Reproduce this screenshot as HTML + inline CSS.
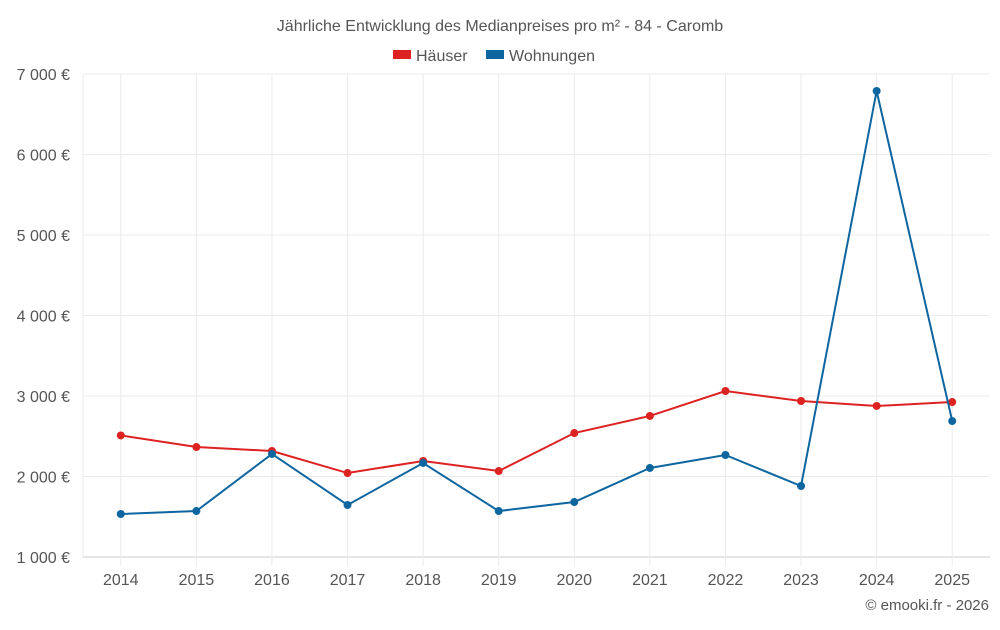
<!DOCTYPE html>
<html><head><meta charset="utf-8"><style>
body{margin:0;background:#fff;font-family:"Liberation Sans",sans-serif;}
svg text{font-family:"Liberation Sans",sans-serif;}
</style></head><body>
<svg id="c" width="1000" height="625">
<text x="500" y="31" text-anchor="middle" font-size="16" fill="#555">Jährliche Entwicklung des Medianpreises pro m² - 84 - Caromb</text>
<g>
<g><rect x="393" y="50" width="18" height="9" fill="#dd2222"/><text x="416" y="61" font-size="16" fill="#555">Häuser</text></g>
<g><rect x="486" y="50" width="18" height="9" fill="#0e66a0"/><text x="509" y="61" font-size="16" fill="#555">Wohnungen</text></g>
</g>
<g id="grid"></g><g id="axes"></g><g id="series"></g>
<text x="989" y="610" text-anchor="end" font-size="15" fill="#555">© emooki.fr - 2026</text>
</svg>
<script>
const years=[2014,2015,2016,2017,2018,2019,2020,2021,2022,2023,2024,2025];
const haeuser=[2510,2366,2317,2043,2193,2068,2540,2752,3062,2938,2876,2925];
const wohnungen=[1534,1571,2280,1646,2168,1571,1683,2106,2267,1882,6789,2689];
const yTicks=[1000,2000,3000,4000,5000,6000,7000];
const yLabels=["1 000 €","2 000 €","3 000 €","4 000 €","5 000 €","6 000 €","7 000 €"];
const NS="http://www.w3.org/2000/svg";
const L=83,R=990,T=74,B=557;
const step=(R-L)/years.length;
const x=i=>L+step*(i+0.5);
const y=v=>B-(v-1000)/6000*(B-T);
function mk(tag,a,p){const e=document.createElementNS(NS,tag);for(const k in a)e.setAttribute(k,a[k]);p.appendChild(e);return e;}
const g=document.getElementById('grid'),ax=document.getElementById('axes'),s=document.getElementById('series');
yTicks.forEach((t,i)=>{
 const l=mk('line',{x1:L,x2:R,y1:y(t),y2:y(t),stroke:i==0?'#ccc':'#ebebeb'},g);
 
 
 const tx=mk('text',{x:70,y:y(t)+6,'text-anchor':'end','font-size':16,fill:'#555'},ax);
 tx.textContent=yLabels[i];
 
 
});
const lb=mk('line',{x1:L,x2:L,y1:T,y2:B,stroke:'#ebebeb'},g);


years.forEach((yr,i)=>{
 const l=mk('line',{x1:x(i),x2:x(i),y1:T,y2:B+9,stroke:'#ebebeb'},g);
 
 
 const tx=mk('text',{x:x(i),y:585,'text-anchor':'middle','font-size':16,fill:'#555'},ax);
 tx.textContent=yr;
 
 
});
function draw(vals,col,name){
 const p=mk('polyline',{points:vals.map((v,i)=>x(i)+','+y(v)).join(' '),fill:'none',stroke:col,'stroke-width':2},s);
 
 
 vals.forEach((v,i)=>{
  const c=mk('circle',{cx:x(i),cy:y(v),r:4,fill:col},s);
  
  
 });
}
draw(haeuser,'#dd2222','haeuser');
draw(wohnungen,'#0e66a0','wohnungen');
</script>
</body></html>
